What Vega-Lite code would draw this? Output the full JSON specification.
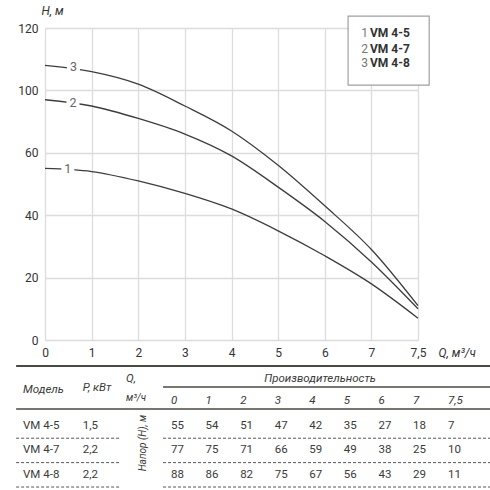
{
  "$schema": "https://vega.github.io/schema/vega-lite/v6.json",
  "background": "white",
  "padding": {"left": 15, "top": 4, "right": 0, "bottom": 0},
  "spacing": 7,
  "datasets": {
    "pump": [
      {"model": "VM 4-5", "q": 0, "h": 55}, {"model": "VM 4-5", "q": 1, "h": 54}, {"model": "VM 4-5", "q": 2, "h": 51},
      {"model": "VM 4-5", "q": 3, "h": 47}, {"model": "VM 4-5", "q": 4, "h": 42}, {"model": "VM 4-5", "q": 5, "h": 35},
      {"model": "VM 4-5", "q": 6, "h": 27}, {"model": "VM 4-5", "q": 7, "h": 18}, {"model": "VM 4-5", "q": 7.5, "h": 7},
      {"model": "VM 4-7", "q": 0, "h": 77}, {"model": "VM 4-7", "q": 1, "h": 75}, {"model": "VM 4-7", "q": 2, "h": 71},
      {"model": "VM 4-7", "q": 3, "h": 66}, {"model": "VM 4-7", "q": 4, "h": 59}, {"model": "VM 4-7", "q": 5, "h": 49},
      {"model": "VM 4-7", "q": 6, "h": 38}, {"model": "VM 4-7", "q": 7, "h": 25}, {"model": "VM 4-7", "q": 7.5, "h": 10},
      {"model": "VM 4-8", "q": 0, "h": 88}, {"model": "VM 4-8", "q": 1, "h": 86}, {"model": "VM 4-8", "q": 2, "h": 82},
      {"model": "VM 4-8", "q": 3, "h": 75}, {"model": "VM 4-8", "q": 4, "h": 67}, {"model": "VM 4-8", "q": 5, "h": 56},
      {"model": "VM 4-8", "q": 6, "h": 43}, {"model": "VM 4-8", "q": 7, "h": 29}, {"model": "VM 4-8", "q": 7.5, "h": 11}
    ],
    "models": [
      {"num": 1, "model": "VM 4-5", "power": 1.5},
      {"num": 2, "model": "VM 4-7", "power": 2.2},
      {"num": 3, "model": "VM 4-8", "power": 2.2}
    ]
  },
  "vconcat": [
    {
      "width": 373,
      "height": 312,
      "layer": [
        {
          "data": {"name": "pump"},
          "mark": {"type": "line", "interpolate": "monotone", "color": "#3d3d3d", "strokeWidth": 1.3},
          "encoding": {
            "x": {
              "field": "q", "type": "quantitative",
              "scale": {"domain": [0, 7, 7.5], "range": [0, 326.4, 373], "nice": false, "zero": false},
              "axis": {
                "values": [0, 1, 2, 3, 4, 5, 6, 7, 7.5], "format": ".1~f", "grid": true,
                "title": "Q, м³/ч", "titleX": 393, "titleY": 12, "titleAlign": "left", "titleBaseline": "middle",
                "titleFontStyle": "italic", "titleFontWeight": "normal", "titleFontSize": 12, "titleColor": "#333",
                "ticks": false, "domain": false, "labelFlush": false, "labelPadding": 7,
                "labelFontSize": 12, "labelColor": "#333", "gridColor": "#dddddd", "gridWidth": 1.3
              }
            },
            "y": {
              "field": "h", "type": "quantitative",
              "scale": {"domain": [0, 100], "nice": false},
              "axis": {
                "values": [0, 10, 20, 30, 40, 50, 60, 70, 80, 90, 100], "grid": true,
                "labelExpr": "datum.value == 100 ? '120' : datum.value == 80 ? '100' : datum.value % 20 == 0 ? datum.label : ''",
                "title": "H, м", "titleAngle": 0, "titleX": -4, "titleY": -18, "titleAlign": "left", "titleBaseline": "middle",
                "titleFontStyle": "italic", "titleFontWeight": "normal", "titleFontSize": 12, "titleColor": "#333",
                "ticks": false, "domain": false, "labelPadding": 7, "labelOverlap": false,
                "labelFontSize": 12, "labelColor": "#333", "gridWidth": 1.3,
                "gridColor": {"condition": {"test": "datum.value % 20 == 0", "value": "#dcdcdc"}, "value": "#ececec"}
              }
            },
            "detail": {"field": "model", "type": "nominal"}
          }
        },
        {
          "data": {"name": "models"},
          "transform": [{"filter": "datum.num == 1"}],
          "encoding": {"x": {"datum": 0.49}, "y": {"datum": 54.8}},
          "layer": [
            {"mark": {"type": "point", "shape": "square", "filled": true, "color": "white", "opacity": 1, "size": 169}},
            {"mark": {"type": "text", "fontSize": 12.5, "color": "#666666", "align": "center", "baseline": "middle"},
             "encoding": {"text": {"field": "num", "type": "nominal"}}}
          ]
        },
        {
          "data": {"name": "models"},
          "transform": [{"filter": "datum.num == 2"}],
          "encoding": {"x": {"datum": 0.6}, "y": {"datum": 76.0}},
          "layer": [
            {"mark": {"type": "point", "shape": "square", "filled": true, "color": "white", "opacity": 1, "size": 169}},
            {"mark": {"type": "text", "fontSize": 12.5, "color": "#666666", "align": "center", "baseline": "middle"},
             "encoding": {"text": {"field": "num", "type": "nominal"}}}
          ]
        },
        {
          "data": {"name": "models"},
          "transform": [{"filter": "datum.num == 3"}],
          "encoding": {"x": {"datum": 0.61}, "y": {"datum": 87.5}},
          "layer": [
            {"mark": {"type": "point", "shape": "square", "filled": true, "color": "white", "opacity": 1, "size": 169}},
            {"mark": {"type": "text", "fontSize": 12.5, "color": "#666666", "align": "center", "baseline": "middle"},
             "encoding": {"text": {"field": "num", "type": "nominal"}}}
          ]
        },
        {
          "data": {"values": [{}]},
          "mark": {"type": "rect", "fill": "white", "stroke": "#a0a0a0", "strokeWidth": 1.2},
          "encoding": {
            "x": {"datum": 6.5}, "x2": {"datum": 7.62},
            "y": {"datum": 103.8}, "y2": {"datum": 81.7}
          }
        },
        {
          "data": {"name": "models"},
          "transform": [{"filter": "datum.num == 1"}],
          "encoding": {"y": {"datum": 98.4}},
          "layer": [
            {"mark": {"type": "text", "fontSize": 12, "color": "#777777", "align": "left", "baseline": "middle"},
             "encoding": {"x": {"datum": 6.78}, "text": {"field": "num", "type": "nominal"}}},
            {"mark": {"type": "text", "fontSize": 12, "fontWeight": "bold", "color": "#333333", "align": "left", "baseline": "middle"},
             "encoding": {"x": {"datum": 6.97}, "text": {"field": "model", "type": "nominal"}}}
          ]
        },
        {
          "data": {"name": "models"},
          "transform": [{"filter": "datum.num == 2"}],
          "encoding": {"y": {"datum": 93.3}},
          "layer": [
            {"mark": {"type": "text", "fontSize": 12, "color": "#777777", "align": "left", "baseline": "middle"},
             "encoding": {"x": {"datum": 6.78}, "text": {"field": "num", "type": "nominal"}}},
            {"mark": {"type": "text", "fontSize": 12, "fontWeight": "bold", "color": "#333333", "align": "left", "baseline": "middle"},
             "encoding": {"x": {"datum": 6.97}, "text": {"field": "model", "type": "nominal"}}}
          ]
        },
        {
          "data": {"name": "models"},
          "transform": [{"filter": "datum.num == 3"}],
          "encoding": {"y": {"datum": 88.8}},
          "layer": [
            {"mark": {"type": "text", "fontSize": 12, "color": "#777777", "align": "left", "baseline": "middle"},
             "encoding": {"x": {"datum": 6.78}, "text": {"field": "num", "type": "nominal"}}},
            {"mark": {"type": "text", "fontSize": 12, "fontWeight": "bold", "color": "#333333", "align": "left", "baseline": "middle"},
             "encoding": {"x": {"datum": 6.97}, "text": {"field": "model", "type": "nominal"}}}
          ]
        }
      ]
    },
    {
      "width": 446,
      "height": 122,
      "layer": [
        {
          "data": {"values": [{}]},
          "mark": {"type": "rule", "color": "#4a4a42", "strokeWidth": 2},
          "encoding": {
            "x": {"datum": -4.48, "scale": {"domain": [0, 7, 7.5], "range": [126, 368, 403], "nice": false, "zero": false}, "axis": null},
            "x2": {"datum": 8.11},
            "y": {"datum": "h1", "bandPosition": 0, "scale": {"type": "band", "domain": ["h1", "h2", "VM 4-5", "VM 4-7", "VM 4-8"], "paddingInner": 0, "paddingOuter": 0}, "axis": null}
          }
        },
        {
          "data": {"values": [{}]},
          "mark": {"type": "rule", "color": "#4a4a42", "strokeWidth": 1.5},
          "encoding": {
            "x": {"datum": -0.23, "axis": null}, "x2": {"datum": 8.11},
            "y": {"datum": "h1", "bandPosition": 0.86, "axis": null}
          }
        },
        {
          "data": {"values": [{}]},
          "mark": {"type": "rule", "color": "#4a4a42", "strokeWidth": 1.5},
          "encoding": {
            "x": {"datum": -4.48, "axis": null}, "x2": {"datum": 8.11},
            "y": {"datum": "h2", "bandPosition": 0.76, "axis": null}
          }
        },
        {
          "data": {"name": "models"},
          "mark": {"type": "rule", "color": "#555555", "strokeWidth": 1, "strokeDash": [3, 2]},
          "encoding": {
            "x": {"datum": -4.48, "axis": null}, "x2": {"datum": -1.5},
            "y": {"field": "model", "type": "nominal", "bandPosition": 0.96, "axis": null}
          }
        },
        {
          "data": {"name": "models"},
          "mark": {"type": "rule", "color": "#555555", "strokeWidth": 1, "strokeDash": [3, 2]},
          "encoding": {
            "x": {"datum": -0.23, "axis": null}, "x2": {"datum": 8.11},
            "y": {"field": "model", "type": "nominal", "bandPosition": 0.96, "axis": null}
          }
        },
        {
          "data": {"values": [{}]},
          "mark": {"type": "text", "fontSize": 11.5, "fontStyle": "italic", "color": "#3a3a3a", "align": "left", "baseline": "middle", "text": "Модель"},
          "encoding": {
            "x": {"datum": -4.28, "axis": null},
            "y": {"datum": "h1", "bandPosition": 0.98, "axis": null}
          }
        },
        {
          "data": {"values": [{}]},
          "mark": {"type": "text", "fontSize": 11.5, "fontStyle": "italic", "color": "#3a3a3a", "align": "left", "baseline": "middle", "text": "P, кВт"},
          "encoding": {
            "x": {"datum": -2.55, "axis": null},
            "y": {"datum": "h1", "bandPosition": 0.9, "axis": null}
          }
        },
        {
          "data": {"values": [{}]},
          "mark": {"type": "text", "fontSize": 11.5, "fontStyle": "italic", "color": "#3a3a3a", "align": "left", "baseline": "middle", "text": "Q,"},
          "encoding": {
            "x": {"datum": -1.3, "axis": null},
            "y": {"datum": "h1", "bandPosition": 0.55, "axis": null}
          }
        },
        {
          "data": {"values": [{}]},
          "mark": {"type": "text", "fontSize": 10, "fontStyle": "italic", "color": "#3a3a3a", "align": "left", "baseline": "middle", "text": "м³/ч"},
          "encoding": {
            "x": {"datum": -1.3, "axis": null},
            "y": {"datum": "h2", "bandPosition": 0.3, "axis": null}
          }
        },
        {
          "data": {"values": [{}]},
          "mark": {"type": "text", "fontSize": 10, "fontStyle": "italic", "color": "#3a3a3a", "align": "center", "baseline": "middle", "angle": 270, "text": "Напор (Н), м"},
          "encoding": {
            "x": {"datum": -0.81, "axis": null},
            "y": {"datum": "VM 4-7", "bandPosition": 0.16, "axis": null}
          }
        },
        {
          "data": {"values": [{}]},
          "mark": {"type": "text", "fontSize": 11.5, "fontStyle": "italic", "color": "#3a3a3a", "align": "center", "baseline": "middle", "text": "Производительность"},
          "encoding": {
            "x": {"datum": 4.31, "axis": null},
            "y": {"datum": "h1", "bandPosition": 0.55, "axis": null}
          }
        },
        {
          "data": {"name": "pump"},
          "transform": [{"filter": "datum.model == 'VM 4-5'"}],
          "mark": {"type": "text", "fontSize": 11.5, "fontStyle": "italic", "color": "#3a3a3a", "align": "left", "baseline": "middle"},
          "encoding": {
            "x": {"field": "q", "type": "quantitative", "axis": null},
            "y": {"datum": "h2", "bandPosition": 0.42, "axis": null},
            "text": {"field": "q", "type": "quantitative"}
          }
        },
        {
          "data": {"name": "pump"},
          "mark": {"type": "text", "fontSize": 11.5, "color": "#3a3a3a", "align": "left", "baseline": "middle"},
          "encoding": {
            "x": {"field": "q", "type": "quantitative", "axis": null},
            "y": {"field": "model", "type": "nominal", "bandPosition": 0.45, "axis": null},
            "text": {"field": "h", "type": "quantitative"}
          }
        },
        {
          "data": {"name": "models"},
          "mark": {"type": "text", "fontSize": 11.5, "color": "#3a3a3a", "align": "left", "baseline": "middle"},
          "encoding": {
            "x": {"datum": -4.28, "axis": null},
            "y": {"field": "model", "type": "nominal", "bandPosition": 0.45, "axis": null},
            "text": {"field": "model", "type": "nominal"}
          }
        },
        {
          "data": {"name": "models"},
          "mark": {"type": "text", "fontSize": 11.5, "color": "#3a3a3a", "align": "left", "baseline": "middle"},
          "encoding": {
            "x": {"datum": -2.55, "axis": null},
            "y": {"field": "model", "type": "nominal", "bandPosition": 0.45, "axis": null},
            "text": {"field": "power", "type": "quantitative"}
          }
        }
      ]
    }
  ],
  "config": {
    "font": "Roboto",
    "view": {"stroke": null},
    "locale": {"number": {"decimal": ",", "thousands": " ", "grouping": [3], "currency": ["", ""]}}
  }
}
